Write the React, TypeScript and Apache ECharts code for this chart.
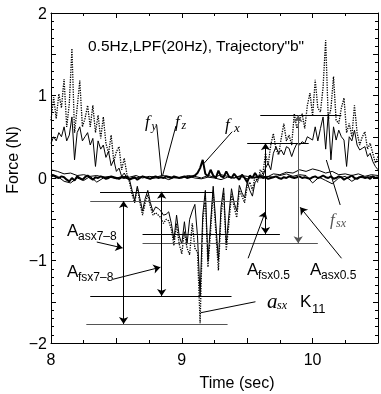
import React, { useEffect, useRef } from 'react';
import * as echarts from 'echarts';

// ---- sampling ----
const T0 = 8;
const DT_FAST = 0.02; // s, for a_sx*K11, f_sx, f_x
const DT_SLOW = 0.05; // s, for f_y, f_z

// a_sx K11 (dotted)
const asxK11 = [
  0.70, 0.98, 0.72, 1.02, 0.85, 1.20, 0.62, 0.90, 1.57, 0.55,
  0.85, 1.18, 0.62, 0.72, 0.88, 0.62, 0.88, 0.55, 0.76, 0.48,
  0.74, 0.42, 0.30, 0.52, 0.20, 0.32, 0.38, 0.10, 0.24, 0.05,
  -0.05, -0.20, -0.30, -0.12, -0.30, -0.45, -0.30, -0.20, -0.35, -0.45,
  -0.42, -0.45, -0.48, -0.55, -0.50, -0.52, -0.62, -0.82, -0.55, -0.80,
  -0.92, -0.65, -0.85, -0.93, -0.55, -0.85, -0.90, -1.76, -0.55, -0.22,
  -1.08, -0.65, -0.15, -0.65, -1.12, -0.45, -0.18, -0.88, -0.55, -0.20,
  -0.35, -0.48, -0.15, -0.22, -0.30, -0.10, -0.05, -0.15, 0.02, -0.05,
  0.10, 0.05, 0.30, 0.15, 0.40, 0.54, 0.35, 0.28, 0.48, 0.66,
  0.45, 0.52, 0.40, 0.78, 0.60, 0.70, 0.78, 0.60, 0.88, 1.03,
  0.75, 1.19, 0.85, 0.80, 1.10, 1.67, 0.70, 0.84, 1.23, 0.70,
  0.66, 0.85, 0.97, 0.55, 0.66, 0.50, 0.88, 0.55, 0.40, 0.50,
  0.56, 0.35, 0.42, 0.30, 0.18, 0.26,
];

// f_sx (thin solid)
const fsx = [
  0.42, 0.50, 0.45, 0.55, 0.50, 0.62, 0.45, 0.52, 0.74, 0.22,
  0.55, 0.62, 0.45, 0.50, 0.55, 0.40, 0.48, 0.14, 0.45, 0.35,
  0.40, 0.25, 0.32, 0.15, 0.22, 0.08, 0.12, 0.02, 0.06, 0.00,
  -0.02, -0.15, -0.27, -0.10, -0.25, -0.40, -0.25, -0.15, -0.30, -0.41,
  -0.35, -0.37, -0.40, -0.45, -0.44, -0.41, -0.55, -0.75, -0.45, -0.70,
  -0.80, -0.53, -0.80, -0.50, -0.40, -0.32, -0.70, -1.44, -0.45, -0.15,
  -1.00, -0.55, -0.10, -0.55, -1.00, -0.35, -0.12, -0.80, -0.45, -0.13,
  -0.30, -0.40, -0.09, -0.18, -0.24, -0.05, -0.15, -0.22, -0.05, -0.02,
  0.05, 0.02, 0.12, 0.18, 0.10, 0.30, 0.38, 0.30, 0.34, 0.28,
  0.38, 0.36, 0.26, 0.35, 0.42, 0.40, 0.44, 0.42, 0.50, 0.48,
  0.46, 0.62, 0.45, 0.60, 0.74, 0.35, 0.78, 0.22, 0.62, 0.46,
  0.58, 0.50, 0.46, 0.14, 0.50, 0.45, 0.58, 0.40, 0.34, 0.36,
  0.38, 0.26, 0.30, 0.20, 0.14, 0.10,
];

// f_x (bold)
const fx = [
  0.02, 0.03, 0.01, 0.00, 0.02, 0.01, -0.02, -0.04, 0.00, -0.03,
  0.02, 0.00, -0.02, 0.01, 0.03, 0.00, -0.02, 0.01, 0.00, 0.02,
  0.01, -0.01, 0.00, 0.02, 0.01, 0.00, -0.01, 0.01, 0.00, 0.02,
  -0.02, 0.00, 0.01, -0.02, 0.00, 0.02, 0.01, 0.00, -0.01, 0.01,
  0.02, 0.00, 0.01, 0.00, 0.02, 0.01, 0.00, 0.02, 0.01, 0.00,
  0.01, 0.02, 0.00, 0.01, 0.02, 0.03, 0.06, 0.12, 0.22, 0.05,
  0.02, 0.10, 0.03, 0.00, 0.09, 0.02, 0.01, 0.08, 0.02, 0.00,
  0.05, 0.01, -0.02, 0.04, 0.00, -0.05, 0.03, 0.00, 0.06, 0.01,
  0.02, 0.00, 0.01, -0.01, 0.00, 0.01, 0.02, 0.00, -0.01, 0.01,
  0.00, 0.02, 0.01, 0.00, 0.01, 0.02, 0.00, 0.01, 0.00, -0.01,
  0.01, 0.02, 0.00, 0.01, 0.03, 0.01, 0.00, 0.02, -0.01, 0.00,
  0.02, 0.01, -0.02, 0.00, 0.01, 0.03, 0.00, -0.01, 0.01, 0.02,
  0.00, 0.01, -0.01, 0.02, 0.00, 0.01,
];

// f_y, f_z (thin)
const fy = [
  0.10, 0.08, 0.05, 0.06, 0.03, 0.04, 0.02, 0.03, 0.01, 0.02, 0.00,
  0.02, 0.01, 0.03, 0.00, 0.02, 0.01, 0.03, 0.02, 0.00, 0.01,
  0.03, 0.02, 0.00, 0.03, 0.01, 0.04, 0.02, 0.00, 0.03, 0.02,
  0.00, 0.03, 0.01, 0.05, 0.04, 0.07, 0.06, 0.10, 0.08, 0.11,
  0.09, 0.06, 0.08, 0.04, 0.05, 0.03, 0.05, 0.02, 0.04, 0.03,
];
const fz = [
  0.05, 0.02, -0.04, -0.06, 0.00, -0.03, 0.02, -0.05, 0.00, 0.01, -0.01,
  0.01, -0.02, 0.00, 0.02, -0.01, 0.00, 0.01, -0.02, 0.01, 0.00,
  0.02, 0.00, -0.01, 0.01, 0.00, -0.02, 0.01, 0.00, 0.02, -0.01,
  0.01, 0.00, 0.02, 0.01, 0.03, 0.05, 0.02, 0.04, 0.03, -0.06,
  0.01, -0.03, -0.07, 0.00, 0.02, -0.04, 0.01, 0.00, 0.02, 0.00,
];

// axes
const xRange = [8, 10.5];
const yRange = [-2, 2];

// ---- annotations (data coordinates) ----
// level lines: [tStart, tEnd, force, colour]
const levelLines: [number, number, number, string][] = [
  [8.375, 9.245, -0.167, '#000'],
  [8.30, 9.44, -0.28, '#555'],
  [8.70, 9.75, -0.68, '#000'],
  [8.70, 10.04, -0.79, '#555'],
  [8.30, 9.38, -1.43, '#000'],
  [8.27, 9.35, -1.77, '#555'],
  [9.60, 10.22, 0.76, '#000'],
  [9.50, 9.97, 0.42, '#000'],
];
// double arrows: [t, fTop, fBottom, colour]
const ampArrows: [number, number, number, string][] = [
  [8.555, -0.28, -1.77, '#000'],
  [8.846, -0.167, -1.43, '#000'],
  [9.64, 0.42, -0.68, '#000'],
  [9.89, 0.76, -0.79, '#555'],
];
// leader arrows: [t1, f1, t2, f2] (arrow head at the 2nd point)
const leaderArrows: [number, number, number, number][] = [
  [8.35, -0.776, 8.547, -0.848],
  [8.473, -1.228, 8.836, -1.082],
  [9.507, -0.973, 9.639, -0.408],
  [10.221, -0.973, 9.905, -0.355],
];
// plain leaders: [t1, f1, t2, f2, colour]
const leaderLines: [number, number, number, number, string][] = [
  [8.808, 0.642, 8.846, 0.028, '#000'],
  [8.955, 0.63, 8.853, 0.028, '#000'],
  [9.385, 0.561, 9.170, 0.178, '#000'],
  [10.211, -0.327, 10.105, 0.218, '#000'],
  [9.563, -1.50, 9.145, -1.633, '#000'],
];

const SANS = '"Liberation Sans", Arial, sans-serif';
const SERIF = '"Liberation Serif", "Times New Roman", serif';

function txt(text: string, x: number, y: number, size: number, family: string, extra: any = {}) {
  return {
    type: 'text',
    x,
    y,
    silent: true,
    rotation: extra.rotation || 0,
    z: 100,
    style: {
      text,
      fontSize: size,
      fontFamily: family,
      fontStyle: extra.italic ? 'italic' : 'normal',
      fill: extra.fill || '#000',
      align: extra.align || 'left',
      verticalAlign: 'middle',
    },
  };
}

const fmt = (v: number) => {
  if (Math.abs(v - Math.round(v)) > 1e-6) return '';
  const r = Math.round(v);
  return r < 0 ? '\u2212' + Math.abs(r) : String(r);
};

function axisBase(show: boolean) {
  return {
    axisLine: { show: true, onZero: false, lineStyle: { color: '#000', width: 1 } },
    axisTick: { show: true, inside: true, length: 5, lineStyle: { color: '#000', width: 1 } },
    splitLine: { show: false },
    axisLabel: {
      show,
      formatter: fmt,
      fontSize: 16,
      fontFamily: SANS,
      color: '#000',
    },
  };
}

export default function App() {
  const ref = useRef<HTMLDivElement>(null);
  useEffect(() => {
    if (!ref.current) return;
    const chart = echarts.init(ref.current, undefined, { renderer: 'svg' });
    const fast = (arr: number[]) => arr.map((v, i) => [T0 + i * DT_FAST, v]);
    const slow = (arr: number[]) => arr.map((v, i) => [T0 + i * DT_SLOW, v]);
    const lineSeries = (name: string, data: number[][], width: number, type: any, z: number) => ({
      type: 'line',
      name,
      data,
      showSymbol: false,
      symbol: 'none',
      silent: true,
      z,
      lineStyle: { color: '#000', width, type },
    });

    const option: any = {
      animation: false,
      grid: { left: 51, right: 0, top: 13, bottom: 51 },
      xAxis: [
        {
          type: 'value', min: xRange[0], max: xRange[1], interval: 0.5, position: 'bottom',
          ...axisBase(true),
          minorTick: { show: true, splitNumber: 2, length: 3, lineStyle: { color: '#000' } },
        },
        {
          type: 'value', min: xRange[0], max: xRange[1], interval: 0.5, position: 'top',
          ...axisBase(false),
          minorTick: { show: true, splitNumber: 2, length: 3, lineStyle: { color: '#000' } },
        },
      ],
      yAxis: [
        {
          type: 'value', min: yRange[0], max: yRange[1], interval: 0.5, position: 'left',
          ...axisBase(true),
          axisLabel: { ...axisBase(true).axisLabel, margin: 4 },
          minorTick: { show: true, splitNumber: 5, length: 3, lineStyle: { color: '#000' } },
        },
        {
          type: 'value', min: yRange[0], max: yRange[1], interval: 0.5, position: 'right',
          ...axisBase(false),
          minorTick: { show: true, splitNumber: 5, length: 3, lineStyle: { color: '#000' } },
        },
      ],
      series: [
        lineSeries('a_sx K11', fast(asxK11), 1.3, [1.3, 1.2], 2),
        lineSeries('f_sx', fast(fsx), 1, 'solid', 3),
        lineSeries('f_y', slow(fy), 1, 'solid', 4),
        lineSeries('f_z', slow(fz), 1, 'solid', 4),
        lineSeries('f_x', fast(fx), 2, 'solid', 5),
        {
          type: 'lines', coordinateSystem: 'cartesian2d', silent: true, z: 6,
          symbol: ['none', 'none'],
          lineStyle: { color: '#000', width: 1, opacity: 1, curveness: 0 },
          data: levelLines.map(([a, b, f, c]) => ({ coords: [[a, f], [b, f]], lineStyle: { color: c } })),
        },
        {
          type: 'lines', coordinateSystem: 'cartesian2d', silent: true, z: 6,
          symbol: ['arrow', 'arrow'], symbolSize: 7,
          lineStyle: { color: '#000', width: 1, opacity: 1, curveness: 0 },
          data: ampArrows.map(([t, a, b, c]) => ({ coords: [[t, a], [t, b]], lineStyle: { color: c } })),
        },
        {
          type: 'lines', coordinateSystem: 'cartesian2d', silent: true, z: 6,
          symbol: ['none', 'arrow'], symbolSize: 7,
          lineStyle: { color: '#000', width: 1, opacity: 1, curveness: 0 },
          data: leaderArrows.map(([a, b, c, d]) => ({ coords: [[a, b], [c, d]] })),
        },
        {
          type: 'lines', coordinateSystem: 'cartesian2d', silent: true, z: 6,
          symbol: ['none', 'none'],
          lineStyle: { color: '#000', width: 1, opacity: 1, curveness: 0 },
          data: leaderLines.map(([a, b, c, d, col]) => ({ coords: [[a, b], [c, d]], lineStyle: { color: col } })),
        },
      ],
      graphic: [
        txt('0.5Hz,LPF(20Hz), Trajectory"b"', 88, 45, 15.5, SANS),
        txt('f', 145, 121, 17, SERIF, { italic: true }),
        txt('y', 151.5, 126, 12, SERIF, { italic: true }),
        txt('f', 175, 121, 17, SERIF, { italic: true }),
        txt('z', 181.5, 125, 12, SERIF, { italic: true }),
        txt('f', 225, 124, 17, SERIF, { italic: true }),
        txt('x', 234, 127, 13, SERIF, { italic: true }),
        txt('f', 330, 219, 17, SERIF, { italic: true, fill: '#555' }),
        txt('sx', 336, 223, 12, SERIF, { italic: true, fill: '#555' }),
        txt('A', 67, 230, 17, SANS),
        txt('asx7\u20138', 78, 236, 12, SANS),
        txt('A', 67, 271, 17, SANS),
        txt('fsx7\u20138', 78, 277, 12, SANS),
        txt('A', 247, 269, 17, SANS),
        txt('fsx0.5', 258, 275, 12, SANS),
        txt('A', 310, 269, 17, SANS),
        txt('asx0.5', 321, 275, 12, SANS),
        txt('a', 267, 301, 21, SERIF, { italic: true }),
        txt('sx', 277, 305, 12, SERIF, { italic: true }),
        txt('K', 300, 301, 17, SANS),
        txt('11', 312, 308, 13, SANS),
        txt('Force (N)', 12, 160, 16, SANS, { align: 'center', rotation: Math.PI / 2 }),
        txt('Time (sec)', 237, 382, 16, SANS, { align: 'center' }),
      ],
    };
    chart.setOption(option);
    return () => chart.dispose();
  }, []);
  return <div ref={ref} style={{ position: 'fixed', left: 0, top: 0, width: 381, height: 394 }} />;
}
